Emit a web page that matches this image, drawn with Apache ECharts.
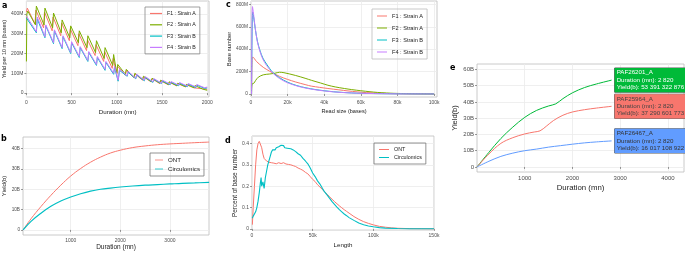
<!DOCTYPE html>
<html><head><meta charset="utf-8">
<script src="https://cdn.jsdelivr.net/npm/echarts@6/dist/echarts.min.js"></script>
<style>html,body{margin:0;padding:0;background:#fff}#c{width:685px;height:253px}</style>
</head><body><div id="c"></div>
<script>
// ---------- Panel a : yield per 10 mn (M bases) vs duration (mn)
const aNames = ['F1 : Strain A','F2 : Strain A','F3 : Strain B','F4 : Strain B'];
const aF1 = [[0,410],[10,430],[95,350],[105,420],[190,330],[200,410],[285,315],[295,385],[380,290],[390,355],[475,265],[485,325],[570,240],[580,300],[665,215],[675,270],[760,190],[770,245],[855,160],[865,210],[950,125],[960,175],[1000,95],[1010,135],[1095,90],[1105,115],[1190,78],[1200,97],[1285,65],[1295,82],[1380,56],[1390,72],[1475,48],[1485,62],[1570,42],[1580,55],[1665,36],[1675,48],[1760,31],[1770,42],[1855,26],[1865,36],[1950,22],[1960,30],[2000,19]];
const aF2 = [[0,160],[5,400],[15,415],[100,345],[110,440],[195,345],[205,430],[290,330],[300,405],[385,305],[395,370],[480,280],[490,340],[575,255],[585,315],[670,230],[680,290],[765,205],[775,265],[860,175],[870,230],[955,140],[965,195],[1000,100],[1010,145],[1095,95],[1105,120],[1190,80],[1200,100],[1285,68],[1295,85],[1380,58],[1390,75],[1475,50],[1485,65],[1570,43],[1580,57],[1665,37],[1675,50],[1760,32],[1770,44],[1855,27],[1865,38],[1950,20],[1960,30],[2000,14]];
const aF3 = [[0,380],[10,390],[110,305],[120,375],[205,280],[215,340],[300,250],[310,315],[395,225],[405,285],[490,200],[500,255],[585,180],[595,230],[680,160],[690,205],[775,140],[785,180],[870,115],[880,155],[965,95],[975,130],[1015,60],[1030,115],[1115,85],[1125,105],[1210,72],[1220,92],[1305,62],[1315,80],[1400,54],[1410,70],[1495,48],[1505,62],[1590,42],[1600,55],[1685,37],[1695,50],[1780,32],[1790,45],[1875,28],[1885,40],[1970,24],[1980,33],[2000,26]];
const aF4 = [[0,390],[10,400],[110,310],[120,385],[205,285],[215,345],[300,255],[310,320],[395,230],[405,290],[490,205],[500,260],[585,185],[595,235],[680,165],[690,210],[775,145],[785,185],[870,120],[880,160],[965,100],[975,135],[1015,65],[1030,120],[1115,88],[1125,110],[1210,75],[1220,95],[1305,65],[1315,83],[1400,57],[1410,73],[1495,50],[1505,65],[1590,45],[1600,58],[1685,40],[1695,53],[1780,35],[1790,48],[1875,31],[1885,43],[1970,27],[1980,36],[2000,30]];
const aXTicks = [0,500,1000,1500,2000];
const aYTicks = [0,100,200,300,400];

// ---------- Panel b : cumulative yield (B) vs duration (mn)
const bNames = ['ONT','Circulomics'];
const bONT = [[40,0],[200,5.5],[400,11.5],[600,17],[800,22],[1000,26.5],[1200,30.2],[1400,33.3],[1600,35.8],[1800,37.8],[2000,39.2],[2250,40.5],[2500,41.3],[2750,41.9],[3000,42.3],[3250,42.6],[3500,42.9],[3790,43.2]];
const bCirc = [[40,0],[200,4.2],[400,8.2],[600,11.6],[800,14.2],[1000,16.2],[1200,17.8],[1400,19.1],[1600,20],[1800,20.6],[2000,21.1],[2250,21.6],[2500,22],[2750,22.3],[3000,22.6],[3250,22.9],[3500,23.1],[3790,23.4]];
const bXTicks = [1000,2000,3000];
const bYTicks = [0,10,20,30,40];

// ---------- Panel c : base number (M) vs read size (kb)
const cF1 = [[0.3,0],[0.6,300],[1,330],[3,290],[6.7,238],[10,205],[15.6,157],[20,130],[24.4,107],[30,82],[33,70],[42,49],[48,37],[53,27],[58,19],[63,12],[70,7],[77,3],[85,1.5],[100,0.3]];
const cF2 = [[0.3,0],[0.6,90],[1.5,95],[2.5,120],[4,150],[6.7,171],[10,178],[13,185],[15.6,194],[18,190],[24.4,165],[30,138],[33,122],[38,98],[42,78],[46,63],[51,49],[55,39],[60,29],[65,20],[69,14],[74,9],[78,6],[85,3],[95,1],[100,0.5]];
const cF3 = [[0.3,0],[0.9,730],[1.5,680],[2.3,585],[3.5,470],[5,383],[6.5,320],[8.5,267],[12,190],[15.6,145],[20,105],[25,75],[30,55],[35,40],[40,29],[45,20],[50,14],[55,9],[60,6],[70,3],[80,1.5],[100,0.3]];
const cF4 = [[0.3,0],[0.8,780],[1.5,700],[2.3,590],[3.5,465],[5,375],[6.5,310],[8.5,255],[12,185],[15.6,138],[20,100],[25,72],[30,52],[35,38],[40,27],[45,19],[50,13],[55,9],[60,6],[70,3],[80,1.2],[100,0.2]];
const cXTicks = [0,20,40,60,80,100];
const cYTicks = [0,200,400,600,800];

// ---------- Panel d : percent of base number vs length (kb)
const dONT = [[0.3,0.02],[1,0.1],[2,0.2],[3,0.3],[4,0.37],[5,0.4],[6,0.41],[7,0.405],[8,0.38],[9,0.35],[10,0.33],[12,0.318],[14,0.312],[16,0.31],[18,0.308],[20,0.305],[22,0.31],[24,0.306],[26,0.31],[28,0.304],[30,0.302],[32,0.3],[34,0.296],[36,0.292],[38,0.285],[40,0.28],[42,0.274],[44,0.265],[46,0.258],[48,0.245],[50,0.232],[52,0.222],[54,0.207],[56,0.196],[58,0.185],[60,0.172],[62,0.162],[64,0.15],[66,0.139],[68,0.128],[70,0.118],[72,0.108],[74,0.099],[76,0.09],[78,0.082],[80,0.074],[84,0.058],[88,0.045],[92,0.034],[96,0.026],[100,0.019],[105,0.012],[110,0.008],[115,0.005],[120,0.003],[130,0.0015],[140,0.001],[150,0.0005]];
const dCirc = [[0.2,0.05],[1,0.06],[2,0.065],[3,0.08],[4,0.1],[5,0.13],[6,0.17],[7,0.22],[7.5,0.24],[8,0.2],[9,0.22],[10,0.19],[11,0.24],[12,0.27],[13,0.3],[14,0.32],[15,0.34],[16,0.36],[17,0.37],[18,0.375],[19,0.37],[20,0.38],[21,0.378],[22,0.385],[23,0.38],[24,0.392],[25,0.385],[26,0.39],[27,0.38],[28,0.385],[29,0.378],[30,0.382],[32,0.375],[34,0.37],[36,0.362],[38,0.352],[40,0.345],[42,0.33],[44,0.318],[46,0.305],[48,0.285],[50,0.262],[52,0.245],[54,0.225],[56,0.21],[58,0.19],[60,0.172],[62,0.158],[64,0.143],[66,0.128],[68,0.115],[70,0.102],[72,0.09],[74,0.08],[76,0.07],[78,0.062],[80,0.053],[84,0.04],[88,0.028],[92,0.02],[96,0.014],[100,0.01],[105,0.006],[110,0.004],[120,0.002],[130,0.001],[150,0.0005]];
const dXTicks = [0,50,100,150];
const dYTicks = [0,0.1,0.2,0.3,0.4];

// ---------- Panel e : cumulative yield (B) per flowcell
const eNames = ['PAF26201_A','PAF25964_A','PAF26467_A'];
const eGreen = [[0,0],[250,9],[500,17.5],[750,24.5],[1000,30.5],[1250,34.8],[1500,37.5],[1650,38.8],[1800,42],[2000,45.6],[2250,48.8],[2500,51],[2820,53.391322876]];
const eRed = [[0,0],[250,8],[500,14.5],[750,18],[1000,20.3],[1200,21.5],[1320,22.2],[1450,25],[1600,28.5],[1800,31.8],[2000,33.8],[2250,35.2],[2500,36.2],[2820,37.290601773]];
const eBlue = [[0,0],[250,3.5],[500,6.5],[750,8.5],[1000,10],[1250,11],[1500,12.2],[1750,13.1],[2000,14],[2250,14.8],[2500,15.4],[2820,16.017108922]];
const eXTicks = [1000,2000,3000,4000];
const eYTicks = [0,10,20,30,40,50,60];

const C = {red:'#F8766D', green:'#7CAE00', cyan:'#00BFC4', purple:'#C77CFF', eGreen:'#00BA38', eRed:'#F8766D', eBlue:'#619CFF'};
const FONT = 'Liberation Sans, Arial, sans-serif';
const GRID_C = '#ebebeb', BORDER_C = '#bdbdbd', LAB_C = '#4d4d4d';

function sp(n){ return String(Math.round(n)).replace(/\B(?=(\d{3})+(?!\d))/g,' '); }

function axis(gi,min,max,ticks,fmt,name,gap,fs,nfs){
  return {type:'value',gridIndex:gi,min:min,max:max,name:name,nameLocation:'middle',nameGap:gap,
    nameTextStyle:{fontFamily:FONT,fontSize:nfs,color:'#222'},
    axisLine:{show:false},axisTick:{show:true,length:2,lineStyle:{color:'#555',width:0.6},customValues:ticks},
    axisLabel:{customValues:ticks,formatter:fmt,fontFamily:FONT,fontSize:fs,color:LAB_C,margin:3},
    splitLine:{show:true,lineStyle:{color:GRID_C,width:0.8}}};
}
function line(name,data,color,xi,w,smooth){
  return {type:'line',name:name,data:data,xAxisIndex:xi,yAxisIndex:xi,showSymbol:false,symbol:'none',smooth:smooth||false,
    lineStyle:{color:color,width:w},itemStyle:{color:color},animation:false,silent:true,clip:true};
}
function legend(names,left,top,gap,fs,iw,border){
  return {data:names,orient:'vertical',left:left,top:top,itemWidth:iw,itemHeight:6,itemGap:gap,
    textStyle:{fontFamily:FONT,fontSize:fs,color:'#222'},borderColor:border,borderWidth:0.8,
    padding:[4,4,4,5],selectedMode:false,icon:'path://M0,0L10,0L10,1L0,1Z'};
}

const grids = [
  {left:21,top:1,width:188,height:96},
  {left:23,top:137,width:186,height:98},
  {left:251,top:1,width:186,height:96},
  {left:252,top:136,width:182,height:94},
  {left:477,top:64,width:207,height:108}
].map(g=>Object.assign(g,{show:true,borderColor:BORDER_C,borderWidth:0.8,backgroundColor:'#fff',containLabel:false}));

const fmtM = v=> v===0?'0':v+'M';
const fmtB = v=> v===0?'0':v+'B';
const fmtK = v=> v===0?'0':v+'k';

const eSeries = [[eNames[0],eGreen,C.eGreen,'#fff'],[eNames[1],eRed,C.eRed,'#444'],[eNames[2],eBlue,C.eBlue,'#333']].map(([n,d,col,tc])=>{
  const s = line(n,d,col,4,1,0.35);
  const last = d[d.length-1];
  s.endLabel = {show:true,distance:3,formatter:()=> n+'\nDuration (mn): '+sp(last[0])+'\nYield(b): '+sp(last[1]*1e9),
    backgroundColor:col,color:tc,fontFamily:FONT,fontSize:6.2,lineHeight:7.4,padding:[1,1,1,2],borderColor:'#555',borderWidth:0.5,align:'left',verticalAlign:'middle'};
  return s;
});

const option = {
  backgroundColor:'#fff',
  animation:false,
  grid:grids,
  xAxis:[
    axis(0,0,2020,aXTicks,v=>String(v),'Duration (mn)',12,5,6.2),
    axis(1,38,3788,bXTicks,v=>String(v),'Duration (mn)',8,5,6.5),
    axis(2,0,101.6,cXTicks,fmtK,'Read size (bases)',11,5,5.6),
    axis(3,0,150,dXTicks,fmtK,'Length',12,5,6.2),
    axis(4,0,4336,eXTicks,v=>String(v),'Duration (mn)',12,6,7.8)
  ],
  yAxis:[
    axis(0,-20,466,aYTicks,fmtM,'Yield per 10 mn (bases)',14,5,5.5),
    axis(1,-2.5,45.7,bYTicks,fmtB,'Yield(b)',12,4.7,6),
    axis(2,-27,830,cYTicks,fmtM,'Base number',13,4.8,5.8),
    axis(3,-0.005,0.435,dYTicks,v=>String(v),'Percent of base number',12,5,6.4),
    axis(4,-3.1,63.3,eYTicks,fmtB,'Yield(b)',17,6,7.5)
  ],
  legend:[
    legend(aNames.slice(),145,7,6.3,5.2,12,'#888'),
    legend(bNames.slice(),150,153,3,6.2,8,'#777'),
    legend(aNames.slice(),372,9,6,5.6,10,'#bbb'),
    legend(bNames.slice(),374,143,3,5.4,10,'#777')
  ],
  series:[
    line(aNames[0],aF1,C.red,0,1), line(aNames[1],aF2,C.green,0,1), line(aNames[2],aF3,C.cyan,0,1), line(aNames[3],aF4,C.purple,0,1),
    line(bNames[0],bONT,C.red,1,1,0.4), line(bNames[1],bCirc,C.cyan,1,1.2,0.4),
    line(aNames[0],cF1,C.red,2,1,0.3), line(aNames[1],cF2,C.green,2,1,0.3), line(aNames[2],cF3,C.cyan,2,1,0.3), line(aNames[3],cF4,C.purple,2,1,0.3),
    line(bNames[0],dONT,C.red,3,1), line(bNames[1],dCirc,C.cyan,3,1.1),
    ...eSeries
  ],
  graphic:[
    ['a',2,2],['b',1,135],['c',226,1],['d',225,137],['e',450,64]
  ].map(([t,x,y])=>({type:'text',left:x,top:y,style:{text:t,fontFamily:'DejaVu Sans, sans-serif',fontWeight:'bold',fontSize:8,fill:'#000'}}))
};
const chart = echarts.init(document.getElementById('c'),null,{renderer:'canvas'});
chart.setOption(option);
</script></body></html>
